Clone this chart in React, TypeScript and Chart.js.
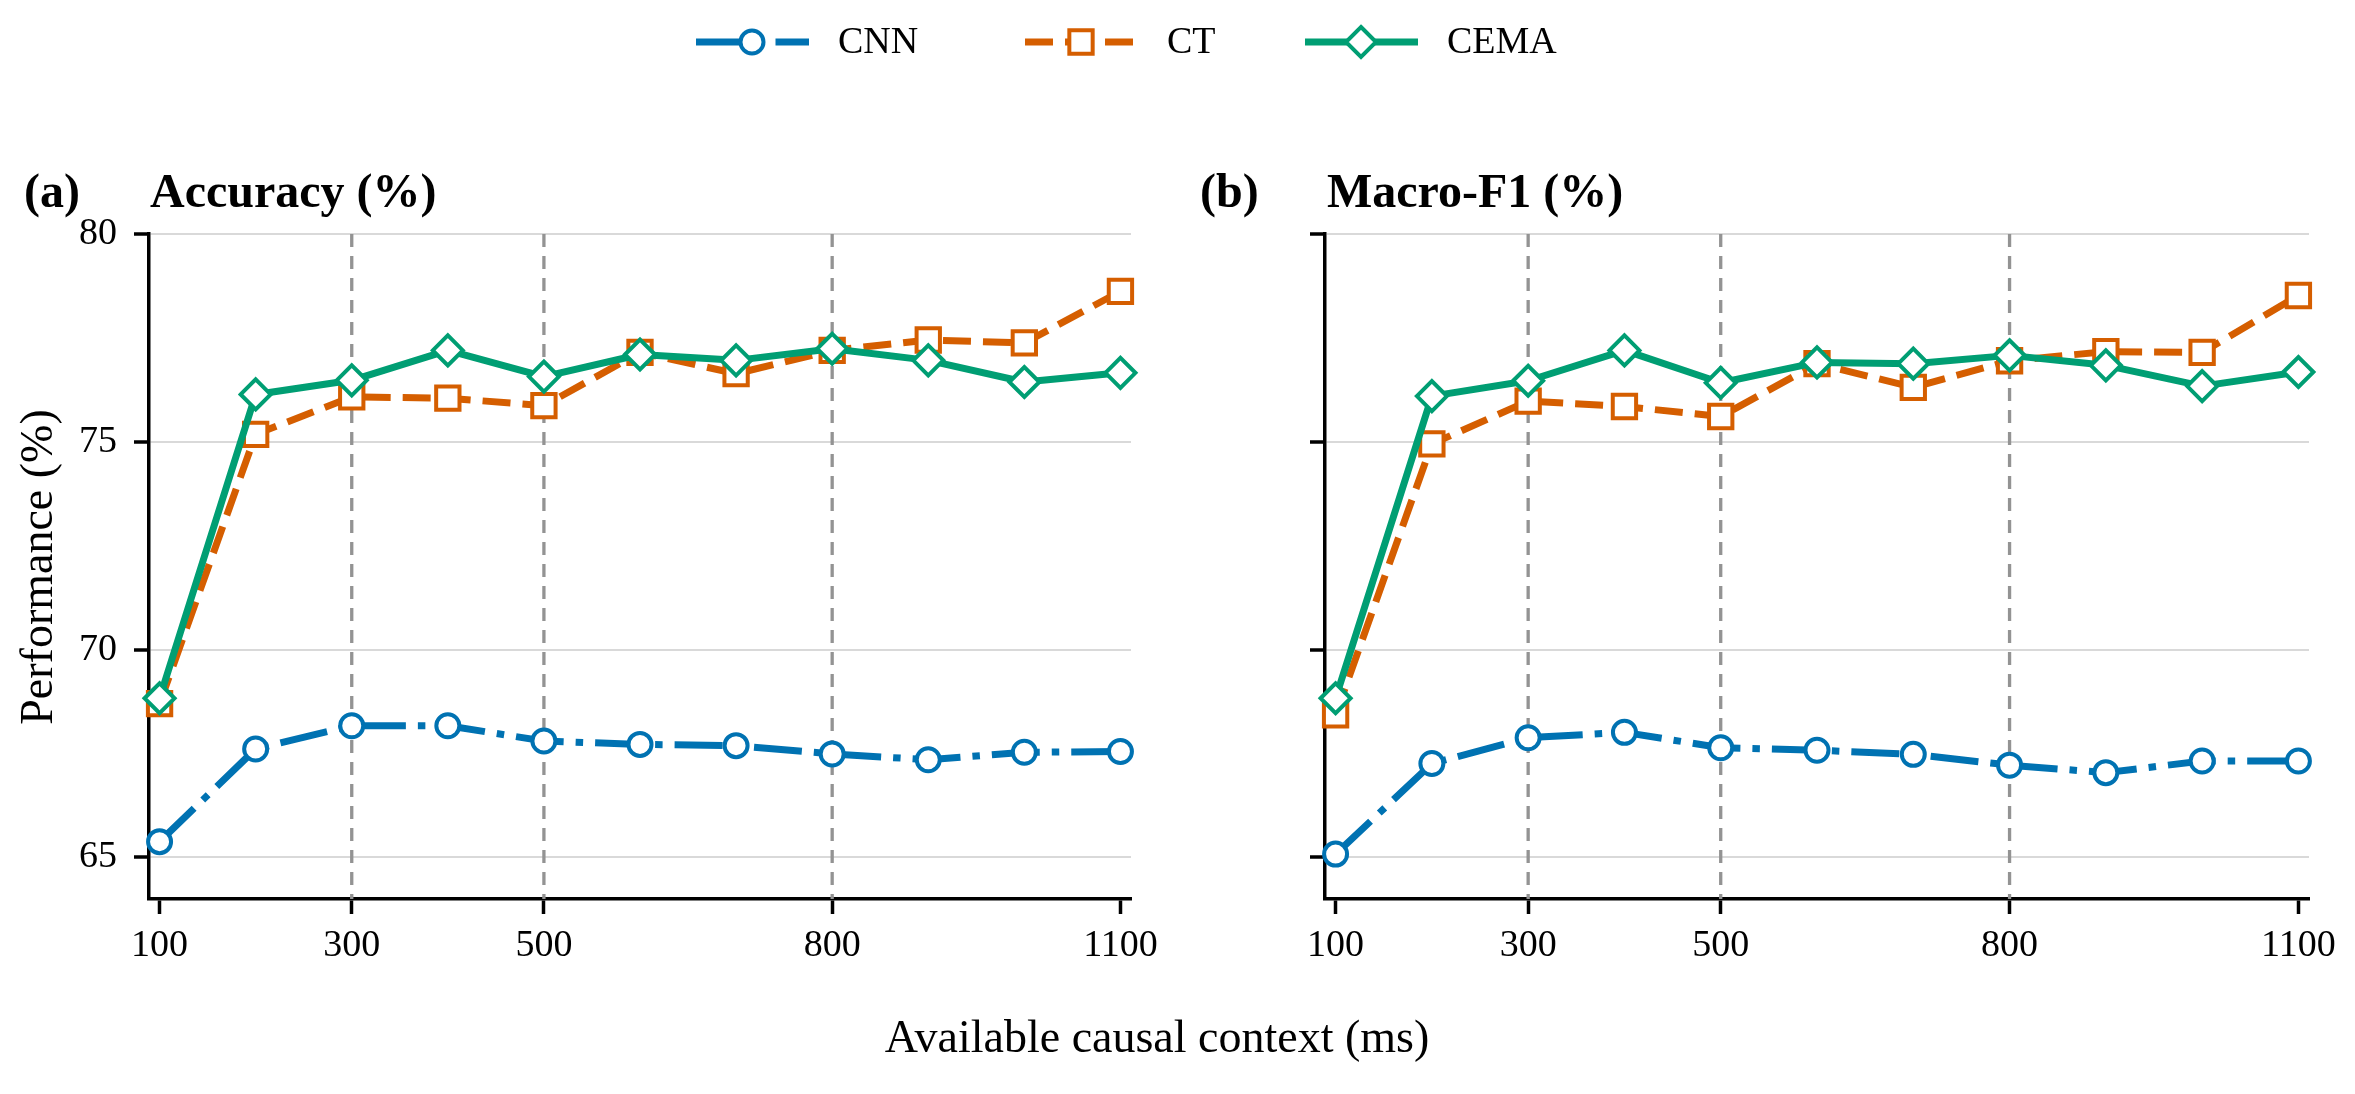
import { useEffect, useRef } from 'react'
import { Chart, registerables } from 'chart.js'

Chart.register(...registerables)

// available causal context (ms)
const contextMs = [100, 200, 300, 400, 500, 600, 700, 800, 900, 1000, 1100]

// (a) accuracy
const accuracyCnn = [65.38, 67.61, 68.17, 68.17, 67.8, 67.72, 67.69, 67.49, 67.35, 67.53, 67.55]
const accuracyCt = [68.7, 75.18, 76.08, 76.05, 75.87, 77.15, 76.64, 77.2, 77.45, 77.38, 78.62]
const accuracyCema = [68.83, 76.14, 76.48, 77.2, 76.57, 77.1, 76.96, 77.24, 76.96, 76.44, 76.66]

// (b) macro-F1
const macroF1Cnn = [65.08, 67.26, 67.88, 68.01, 67.64, 67.58, 67.48, 67.22, 67.04, 67.32, 67.32]
const macroF1Ct = [68.43, 74.95, 75.98, 75.85, 75.61, 76.88, 76.31, 76.95, 77.17, 77.15, 78.52]
const macroF1Cema = [68.83, 76.1, 76.47, 77.2, 76.42, 76.91, 76.88, 77.08, 76.84, 76.34, 76.68]

const xTickValues = [100, 300, 500, 800, 1100]
const yTickValues = [65, 70, 75, 80]
const markerLines = [300, 500, 800]

const W = 2355
const H = 1094
const FONT = "'Liberation Serif', 'Times New Roman', serif"

const BLUE = '#0072B2'
const ORANGE = '#D55E00'
const GREEN = '#009E73'

const LINE_W = 7
const DASH_CT = [28, 12]
const DASH_CNN = [48, 12, 7.5, 12]

// dashed reference lines at the chosen context lengths
const markerLinePlugin = {
  id: 'markerLines',
  beforeDatasetsDraw(chart: any) {
    const { ctx, chartArea, scales } = chart
    ctx.save()
    ctx.strokeStyle = '#939393'
    ctx.lineWidth = 3.3
    ctx.setLineDash([13, 9])
    markerLines.forEach((v) => {
      const x = scales.x.getPixelForValue(v)
      ctx.beginPath()
      ctx.moveTo(x, chartArea.top)
      ctx.lineTo(x, chartArea.bottom)
      ctx.stroke()
    })
    ctx.restore()
  },
}

interface PanelProps {
  left: number
  width: number
  yAxisWidth: number
  padRight: number
  showYLabels: boolean
  cnn: number[]
  ct: number[]
  cema: number[]
}

function Panel({ left, width, yAxisWidth, padRight, showYLabels, cnn, ct, cema }: PanelProps) {
  const canvasRef = useRef<HTMLCanvasElement>(null)

  useEffect(() => {
    if (!canvasRef.current) return
    const points = (vals: number[]) => contextMs.map((x, i) => ({ x, y: vals[i] }))
    const common = {
      backgroundColor: '#fff',
      pointBackgroundColor: '#fff',
      borderWidth: LINE_W,
      borderJoinStyle: 'round' as const,
      pointBorderWidth: 4,
      tension: 0,
      clip: false as const,
    }
    const chart = new Chart(canvasRef.current, {
      type: 'line',
      data: {
        datasets: [
          {
            ...common,
            label: 'CNN',
            data: points(cnn),
            borderColor: BLUE,
            pointBorderColor: BLUE,
            borderDash: DASH_CNN,
            pointStyle: 'circle',
            pointRadius: 11.5,
            order: 3,
          },
          {
            ...common,
            label: 'CT',
            data: points(ct),
            borderColor: ORANGE,
            pointBorderColor: ORANGE,
            borderDash: DASH_CT,
            pointStyle: 'rect',
            pointRadius: 16.5,
            order: 2,
          },
          {
            ...common,
            label: 'CEMA',
            data: points(cema),
            borderColor: GREEN,
            pointBorderColor: GREEN,
            pointStyle: 'rectRot',
            pointRadius: 15,
            order: 1,
          },
        ],
      },
      options: {
        responsive: false,
        devicePixelRatio: 1,
        animation: false,
        events: [],
        layout: { padding: { left: 0, top: 234, right: padRight, bottom: H - 899 - 60 } },
        plugins: {
          legend: { display: false },
          tooltip: { enabled: false },
          title: { display: false },
        },
        scales: {
          x: {
            type: 'linear',
            min: 89,
            max: 1111,
            afterBuildTicks: (scale: any) => {
              scale.ticks = xTickValues.map((value) => ({ value }))
            },
            afterFit: (scale: any) => {
              scale.height = 60
            },
            ticks: {
              color: '#000',
              font: { family: FONT, size: 38 },
              padding: 9,
              maxRotation: 0,
              autoSkip: false,
              callback: (v: any) => String(v),
            },
            grid: {
              drawOnChartArea: false,
              drawTicks: true,
              tickLength: 15,
              tickWidth: 3.5,
              tickColor: '#000',
            },
            border: { color: '#000', width: 3.5 },
          },
          y: {
            type: 'linear',
            min: 64,
            max: 80,
            afterBuildTicks: (scale: any) => {
              scale.ticks = yTickValues.map((value) => ({ value }))
            },
            afterFit: (scale: any) => {
              scale.width = yAxisWidth
            },
            ticks: {
              color: '#000',
              font: { family: FONT, size: 38 },
              padding: 17,
              callback: (v: any) => (showYLabels ? String(v) : ''),
            },
            grid: {
              color: '#d9d9d9',
              lineWidth: 2,
              drawTicks: true,
              tickLength: 15,
              tickWidth: 3.5,
              tickColor: '#000',
            },
            border: { color: '#000', width: 3.5 },
          },
        },
      },
      plugins: [markerLinePlugin],
    })
    return () => chart.destroy()
  }, [])

  return (
    <canvas
      ref={canvasRef}
      width={width}
      height={H}
      style={{ position: 'absolute', left, top: 0, width, height: H }}
    />
  )
}

function drawMarker(ctx: CanvasRenderingContext2D, style: string, x: number, y: number, color: string) {
  ctx.save()
  ctx.setLineDash([])
  ctx.fillStyle = '#fff'
  ctx.strokeStyle = color
  ctx.lineWidth = 4
  ctx.beginPath()
  if (style === 'circle') {
    ctx.arc(x, y, 11.5, 0, Math.PI * 2)
  } else if (style === 'rect') {
    const s = 16.5 * Math.SQRT1_2
    ctx.rect(x - s, y - s, 2 * s, 2 * s)
  } else {
    const r = 15
    ctx.moveTo(x, y - r)
    ctx.lineTo(x + r, y)
    ctx.lineTo(x, y + r)
    ctx.lineTo(x - r, y)
    ctx.closePath()
  }
  ctx.fill()
  ctx.stroke()
  ctx.restore()
}

const legendItems = [
  { label: 'CNN', color: BLUE, dash: DASH_CNN, marker: 'circle', x: 696 },
  { label: 'CT', color: ORANGE, dash: DASH_CT, marker: 'rect', x: 1025 },
  { label: 'CEMA', color: GREEN, dash: [] as number[], marker: 'rectRot', x: 1305 },
]

function Annotations() {
  const canvasRef = useRef<HTMLCanvasElement>(null)

  useEffect(() => {
    const ctx = canvasRef.current?.getContext('2d')
    if (!ctx) return
    ctx.clearRect(0, 0, W, H)

    // legend
    const ly = 42
    legendItems.forEach((item) => {
      ctx.save()
      ctx.strokeStyle = item.color
      ctx.lineWidth = LINE_W
      ctx.setLineDash(item.dash)
      ctx.beginPath()
      ctx.moveTo(item.x, ly)
      ctx.lineTo(item.x + 113, ly)
      ctx.stroke()
      ctx.restore()
      drawMarker(ctx, item.marker, item.x + 56, ly, item.color)
      ctx.fillStyle = '#000'
      ctx.font = `38px ${FONT}`
      ctx.textBaseline = 'middle'
      ctx.textAlign = 'left'
      ctx.fillText(item.label, item.x + 142, ly + 1)
    })

    // panel titles
    ctx.fillStyle = '#000'
    ctx.font = `bold 48px ${FONT}`
    ctx.textBaseline = 'alphabetic'
    ctx.textAlign = 'left'
    ctx.fillText('(a)', 24, 207)
    ctx.fillText('Accuracy (%)', 150, 207)
    ctx.fillText('(b)', 1200, 207)
    ctx.fillText('Macro-F1 (%)', 1327, 207)

    // axis titles
    ctx.font = `46px ${FONT}`
    ctx.textAlign = 'center'
    ctx.textBaseline = 'middle'
    ctx.fillText('Available causal context (ms)', 1157, 1040)
    ctx.save()
    ctx.translate(40, 567)
    ctx.rotate(-Math.PI / 2)
    ctx.fillText('Performance (%)', 0, 0)
    ctx.restore()
  }, [])

  return (
    <canvas
      ref={canvasRef}
      width={W}
      height={H}
      style={{ position: 'absolute', left: 0, top: 0, width: W, height: H, pointerEvents: 'none' }}
    />
  )
}

export default function App() {
  return (
    <div style={{ position: 'absolute', left: 0, top: 0, width: W, height: H, background: '#fff', overflow: 'hidden' }}>
      <Panel left={0} width={1180} yAxisWidth={149} padRight={49} showYLabels cnn={accuracyCnn} ct={accuracyCt} cema={accuracyCema} />
      <Panel left={1180} width={1175} yAxisWidth={145} padRight={46} showYLabels={false} cnn={macroF1Cnn} ct={macroF1Ct} cema={macroF1Cema} />
      <Annotations />
    </div>
  )
}
